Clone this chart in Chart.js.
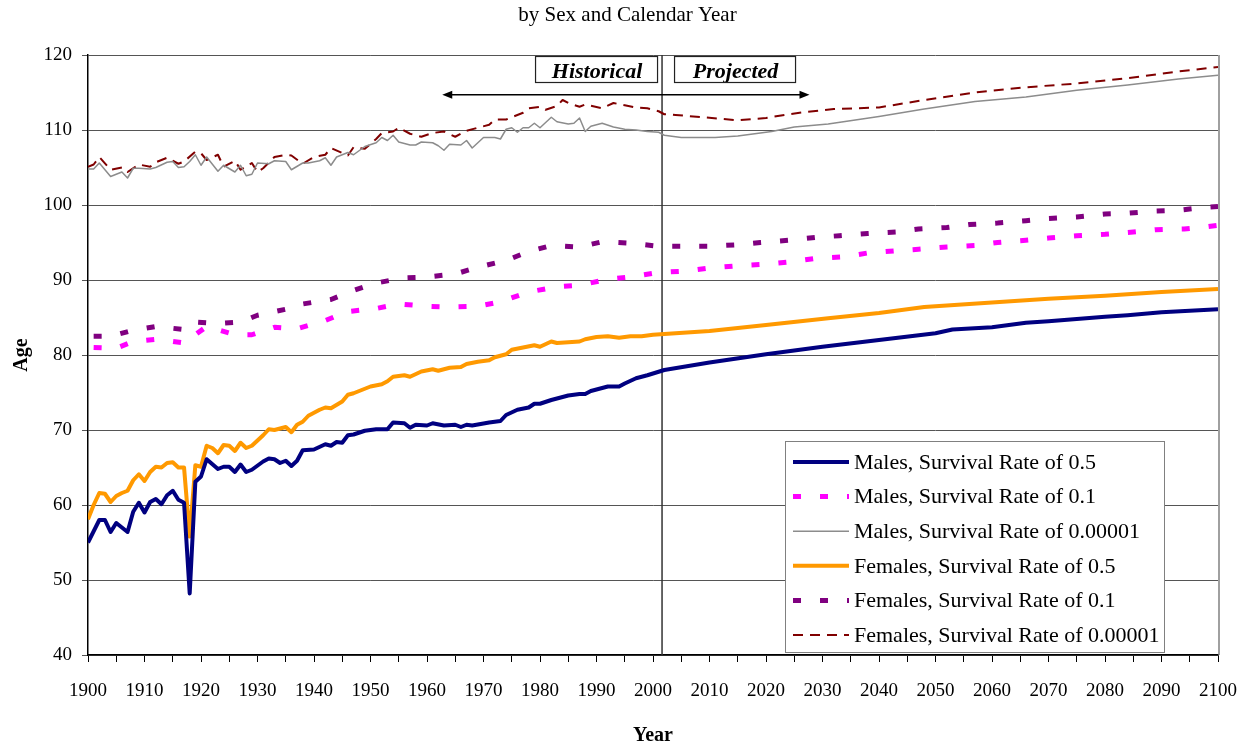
<!DOCTYPE html>
<html><head><meta charset="utf-8">
<script src="https://cdn.jsdelivr.net/npm/chart.js@4/dist/chart.umd.min.js"></script>
<style>html,body{margin:0;padding:0;background:#fff;}#wrap{width:1255px;height:746px;}</style>
</head><body><div id="wrap"><canvas id="c" width="1255" height="746"></canvas></div>
<script>
// ---- text ----
const chartTitle = 'by Sex and Calendar Year';
const xAxisTitle = 'Year';
const yAxisTitle = 'Age';
const historicalLabel = 'Historical';
const projectedLabel = 'Projected';
const seriesNames = [
  'Males, Survival Rate of 0.5',
  'Males, Survival Rate of 0.1',
  'Males, Survival Rate of 0.00001',
  'Females, Survival Rate of 0.5',
  'Females, Survival Rate of 0.1',
  'Females, Survival Rate of 0.00001'
];
// ---- axis ----
const yearMin = 1900, yearMax = 2100, yearTickStep = 5, yearLabelStep = 10;
const ageMin = 40, ageMax = 120, ageStep = 10;
// ---- annotations ----
const separatorYear = 2001.6;
const arrowFromYear = 1962.7, arrowToYear = 2027.7, arrowAge = 114.7;

// ---- Males, survival rate 0.5 ----
const maleHalfYears = [1900,1902,1903,1904,1905,1907,1908,1909,1910,1911,1912,1913,1914,1915,1916,1917,1918,1919,1920,1921,1923,1924,1925,1926,1927,1928,1929,1931,1932,1933,1934,1935,1936,1937,1938,1940,1942,1943,1944,1945,1946,1947,1949,1951,1953,1954,1956,1957,1958,1960,1961,1963,1965,1966,1967,1968,1971,1973,1974,1976,1978,1979,1980,1982,1984,1985,1987,1988,1989,1992,1994,1995,1997,1999,2002,2010,2020,2030,2040,2050,2053,2060,2066,2070,2080,2084,2090,2100];
const maleHalfAges = [55.0,58.0,58.0,56.4,57.6,56.4,59.1,60.3,59.0,60.4,60.8,60.1,61.3,61.9,60.7,60.3,48.2,63.1,63.8,66.1,64.8,65.1,65.1,64.4,65.4,64.4,64.7,65.8,66.2,66.1,65.6,65.9,65.2,65.9,67.3,67.4,68.1,67.9,68.4,68.3,69.3,69.4,69.9,70.1,70.1,71.0,70.9,70.3,70.7,70.6,70.9,70.6,70.7,70.4,70.7,70.6,71.0,71.2,72.0,72.7,73.0,73.5,73.5,74.0,74.4,74.6,74.8,74.8,75.2,75.8,75.8,76.2,76.9,77.3,78.0,79.0,80.1,81.1,82.0,82.9,83.4,83.7,84.3,84.5,85.1,85.3,85.7,86.1];

// ---- Males, survival rate 0.1 ----
const maleTenthYears = [1901,1905,1908,1912,1917,1919,1921,1926,1929,1933,1937,1942,1946,1951,1955,1960,1964,1969,1973,1978,1983,1987,1992,1996,2001,2006,2010,2015,2020,2024,2029,2034,2038,2043,2047,2052,2057,2061,2066,2070,2075,2080,2085,2089,2094,2098,2100];
const maleTenthAges = [81.0,80.9,81.8,82.1,81.6,82.7,83.8,82.7,82.7,83.7,83.5,84.6,85.8,86.2,86.8,86.5,86.4,86.5,87.1,88.4,89.1,89.3,90.1,90.4,91.0,91.2,91.6,91.9,92.1,92.4,92.9,93.1,93.6,93.9,94.1,94.4,94.6,95.0,95.3,95.6,95.9,96.1,96.4,96.7,96.8,97.1,97.3];

// ---- Males, survival rate 0.00001 ----
const maleTinyYears = [1900,1901,1902,1904,1906,1907,1908,1909,1911,1912,1914,1915,1916,1917,1918,1919,1920,1921,1923,1924,1926,1927,1928,1929,1930,1932,1933,1935,1936,1938,1939,1941,1942,1943,1944,1946,1947,1949,1951,1952,1953,1954,1955,1957,1958,1959,1961,1962,1963,1964,1966,1967,1968,1970,1972,1973,1974,1975,1976,1977,1978,1979,1980,1982,1983,1985,1986,1987,1988,1989,1991,1993,1995,1997,1999,2001,2002,2005,2011,2015,2021,2025,2031,2040,2048,2057,2066,2075,2084,2093,2100];
const maleTinyAges = [104.8,104.8,105.6,103.8,104.4,103.6,104.9,104.9,104.8,105.0,105.7,105.8,105.0,105.1,105.8,106.7,105.3,106.4,104.5,105.3,104.4,105.3,103.9,104.1,105.6,105.5,105.9,105.8,104.7,105.6,105.6,105.9,106.3,105.3,106.4,107.0,106.7,107.8,108.3,109.0,108.6,109.3,108.4,108.0,108.0,108.4,108.3,107.9,107.3,108.1,108.0,108.6,107.6,109.0,109.0,108.8,110.1,110.3,109.7,110.3,110.3,110.9,110.3,111.7,111.1,110.8,110.9,111.6,109.8,110.5,110.9,110.4,110.1,110.0,109.8,109.7,109.3,109.0,109.0,109.2,109.8,110.4,110.8,111.8,112.8,113.8,114.4,115.3,116.0,116.8,117.3];

// ---- Females, survival rate 0.5 ----
const femaleHalfYears = [1900,1901,1902,1903,1904,1905,1906,1907,1908,1909,1910,1911,1912,1913,1914,1915,1916,1917,1918,1919,1920,1921,1922,1923,1924,1925,1926,1927,1928,1929,1931,1932,1933,1934,1935,1936,1937,1938,1939,1941,1942,1943,1945,1946,1947,1948,1950,1952,1953,1954,1956,1957,1959,1961,1962,1964,1966,1967,1969,1971,1972,1974,1975,1977,1979,1980,1982,1983,1985,1987,1988,1990,1992,1994,1996,1998,2000,2002,2010,2020,2031,2040,2048,2060,2066,2070,2080,2084,2090,2100];
const femaleHalfAges = [58.1,60.0,61.6,61.5,60.4,61.2,61.6,61.9,63.3,64.1,63.2,64.4,65.1,65.0,65.6,65.7,65.0,65.0,55.8,65.3,65.1,67.9,67.6,66.9,68.0,67.9,67.2,68.3,67.6,67.9,69.3,70.1,70.0,70.2,70.4,69.7,70.7,71.1,71.9,72.7,73.0,72.9,73.8,74.7,74.9,75.2,75.8,76.1,76.5,77.1,77.3,77.1,77.8,78.1,77.9,78.3,78.4,78.8,79.1,79.3,79.7,80.1,80.7,81.0,81.3,81.1,81.8,81.6,81.7,81.8,82.1,82.4,82.5,82.3,82.5,82.5,82.7,82.8,83.2,84.0,84.9,85.6,86.4,87.0,87.3,87.5,87.9,88.1,88.4,88.8];

// ---- Females, survival rate 0.1 ----
const femaleTenthYears = [1901,1904,1908,1912,1917,1919,1923,1927,1930,1935,1938,1943,1947,1951,1956,1960,1965,1969,1974,1978,1982,1987,1991,1996,2001,2005,2010,2015,2019,2024,2029,2033,2038,2043,2047,2052,2056,2061,2066,2070,2075,2080,2084,2089,2093,2098,2100];
const femaleTenthAges = [82.5,82.5,83.3,83.8,83.4,84.4,84.2,84.4,85.3,86.1,86.8,87.4,88.6,89.6,90.3,90.4,90.8,91.7,92.6,93.8,94.6,94.4,95.1,94.9,94.5,94.5,94.5,94.7,95.0,95.3,95.7,95.9,96.2,96.4,96.8,97.0,97.4,97.6,97.9,98.2,98.4,98.8,98.9,99.2,99.3,99.7,99.8];

// ---- Females, survival rate 0.00001 ----
const femaleTinyYears = [1900,1901,1902,1904,1906,1907,1909,1911,1912,1914,1916,1917,1919,1920,1921,1923,1924,1926,1927,1929,1930,1931,1933,1935,1936,1938,1940,1942,1943,1946,1947,1949,1951,1952,1954,1955,1957,1959,1961,1963,1965,1967,1969,1971,1972,1974,1977,1978,1980,1981,1983,1984,1985,1987,1988,1991,1993,1995,1997,1999,2001,2002,2004,2012,2015,2020,2024,2027,2032,2040,2048,2057,2066,2075,2084,2093,2100];
const femaleTinyAges = [105.1,105.4,106.4,104.7,105.0,104.4,105.4,105.1,105.7,106.3,105.5,105.8,107.1,106.9,106.0,106.7,105.1,105.9,104.7,105.6,104.4,104.9,106.4,106.7,106.6,105.5,106.4,106.7,107.6,106.6,107.7,107.5,108.8,109.6,109.8,110.3,109.5,109.1,109.6,109.8,109.1,109.9,110.3,110.7,111.4,111.4,112.3,112.9,113.1,112.7,113.2,114.0,113.6,113.1,113.4,112.9,113.6,113.3,113.0,112.9,112.5,112.1,112.0,111.5,111.3,111.6,112.1,112.4,112.8,113.0,114.0,115.0,115.7,116.2,116.9,117.8,118.4,119.0];

// ---- styles ----
const seriesColors = ['#000080','#FF00FF','#8C8C8C','#FF9900','#800080','#800000'];
const seriesWidths = [4, 5, 1.5, 4, 5, 2];
const seriesDashes = [[], [8,19], [], [], [8,19], [10,7]];
const serif = "'Liberation Serif','Times New Roman',serif";

function pairs(xs, ys){ return xs.map((x,i)=>({x:x, y:ys[i]})); }
const seriesData = [
  pairs(maleHalfYears, maleHalfAges),
  pairs(maleTenthYears, maleTenthAges),
  pairs(maleTinyYears, maleTinyAges),
  pairs(femaleHalfYears, femaleHalfAges),
  pairs(femaleTenthYears, femaleTenthAges),
  pairs(femaleTinyYears, femaleTinyAges)
];

const datasets = seriesData.map((d,i)=>({
  label: seriesNames[i], data: d,
  borderColor: seriesColors[i], backgroundColor: seriesColors[i],
  borderWidth: seriesWidths[i], borderDash: seriesDashes[i],
  borderCapStyle: 'butt', borderJoinStyle: 'round',
  pointRadius: 0, tension: 0, fill: false
}));
datasets.push({
  label: '_separator',
  data: [{x: separatorYear, y: ageMin}, {x: separatorYear, y: ageMax}],
  borderColor: '#333', borderWidth: 1.5, pointRadius: 0, fill: false
});

const decorPlugin = {
  id: 'decor',
  beforeDatasetsDraw(chart){
    const ctx = chart.ctx, a = chart.chartArea;
    ctx.save();
    ctx.strokeStyle = '#808080'; ctx.lineWidth = 1.5;
    ctx.beginPath(); ctx.moveTo(a.right+1, a.top); ctx.lineTo(a.right+1, a.bottom); ctx.stroke();
    // chart title, centred on the page
    ctx.fillStyle = '#000'; ctx.font = "21px " + serif;
    ctx.textAlign = 'center'; ctx.textBaseline = 'middle';
    ctx.fillText(chartTitle, chart.width/2, 15);
    ctx.restore();
  },
  afterDatasetsDraw(chart){
    const ctx = chart.ctx, a = chart.chartArea;
    const xs = chart.scales.x, ys = chart.scales.y;
    ctx.save();
    // arrow
    const ax1 = xs.getPixelForValue(arrowFromYear), ax2 = xs.getPixelForValue(arrowToYear);
    const ay = ys.getPixelForValue(arrowAge);
    ctx.strokeStyle = '#000'; ctx.fillStyle = '#000'; ctx.lineWidth = 1.5;
    ctx.beginPath(); ctx.moveTo(ax1+6, ay); ctx.lineTo(ax2-6, ay); ctx.stroke();
    ctx.beginPath(); ctx.moveTo(ax1, ay); ctx.lineTo(ax1+10, ay-4); ctx.lineTo(ax1+10, ay+4); ctx.closePath(); ctx.fill();
    ctx.beginPath(); ctx.moveTo(ax2, ay); ctx.lineTo(ax2-10, ay-4); ctx.lineTo(ax2-10, ay+4); ctx.closePath(); ctx.fill();
    // boxes
    const sx = xs.getPixelForValue(separatorYear);
    const boxes = [
      {text: historicalLabel, l: sx-127, w: 122},
      {text: projectedLabel, l: sx+12, w: 121}
    ];
    boxes.forEach(b=>{
      const t = a.top + 1, h = 26;
      ctx.fillStyle = '#fff'; ctx.fillRect(b.l, t, b.w, h);
      ctx.strokeStyle = '#222'; ctx.lineWidth = 1.2; ctx.strokeRect(b.l+0.5, t+0.5, b.w, h);
      ctx.save();
      ctx.beginPath(); ctx.rect(b.l, t, b.w, h); ctx.clip();
      ctx.fillStyle = '#000'; ctx.font = "italic bold 22px " + serif;
      ctx.textAlign = 'center'; ctx.textBaseline = 'alphabetic';
      ctx.fillText(b.text, b.l + b.w/2 + 1, t + 22);
      ctx.restore();
    });
    // legend
    const L = a.right - 433, T = a.bottom - 214, W = 379, H = 211;
    ctx.fillStyle = '#fff'; ctx.fillRect(L, T, W, H);
    ctx.strokeStyle = '#808080'; ctx.lineWidth = 1; ctx.strokeRect(L+0.5, T+0.5, W, H);
    for (let i = 0; i < seriesNames.length; i++){
      const y = T + 21 + i*34.6;
      ctx.save();
      ctx.strokeStyle = seriesColors[i]; ctx.lineWidth = seriesWidths[i];
      ctx.setLineDash(seriesDashes[i]); ctx.lineCap = 'butt';
      ctx.beginPath(); ctx.moveTo(L+8, y); ctx.lineTo(L+64, y); ctx.stroke();
      ctx.restore();
      ctx.fillStyle = '#000'; ctx.font = "22px " + serif;
      ctx.textAlign = 'left'; ctx.textBaseline = 'middle';
      ctx.fillText(seriesNames[i], L+69, y+1);
    }
    ctx.restore();
  }
};

new Chart(document.getElementById('c'), {
  type: 'line',
  data: { datasets: datasets },
  plugins: [decorPlugin],
  options: {
    responsive: false, animation: false, devicePixelRatio: 1,
    layout: { padding: { top: 55, right: 33, bottom: 0, left: 0 } },
    plugins: {
      legend: { display: false },
      tooltip: { enabled: false },
      title: { display: false }
    },
    scales: {
      x: {
        type: 'linear', min: yearMin, max: yearMax,
        afterFit(s){ s.height = 91; },
        ticks: { stepSize: yearTickStep, autoSkip: false, maxRotation: 0, minRotation: 0,
          color: '#000', font: { family: serif, size: 19 }, padding: 18,
          callback: v => (v % yearLabelStep === 0 ? String(v) : '') },
        grid: { drawOnChartArea: false, drawTicks: true, tickLength: 7, color: '#000', tickWidth: 1 },
        border: { display: true, color: '#000', width: 1.5 },
        title: { display: true, text: xAxisTitle, color: '#000',
          font: { family: serif, size: 20, weight: 'bold' }, padding: { top: 0, bottom: -2 } }
      },
      y: {
        min: ageMin, max: ageMax,
        afterFit(s){ s.width = 88; },
        ticks: { stepSize: ageStep, color: '#000', font: { family: serif, size: 19 }, padding: 10 },
        grid: { color: '#555', lineWidth: 1, drawTicks: true, tickLength: 6 },
        border: { display: true, color: '#000', width: 1.5 },
        title: { display: true, text: yAxisTitle, color: '#000',
          font: { family: serif, size: 20, weight: 'bold' }, padding: { top: 10, bottom: 0 } }
      }
    }
  }
});
</script>
</body></html>
